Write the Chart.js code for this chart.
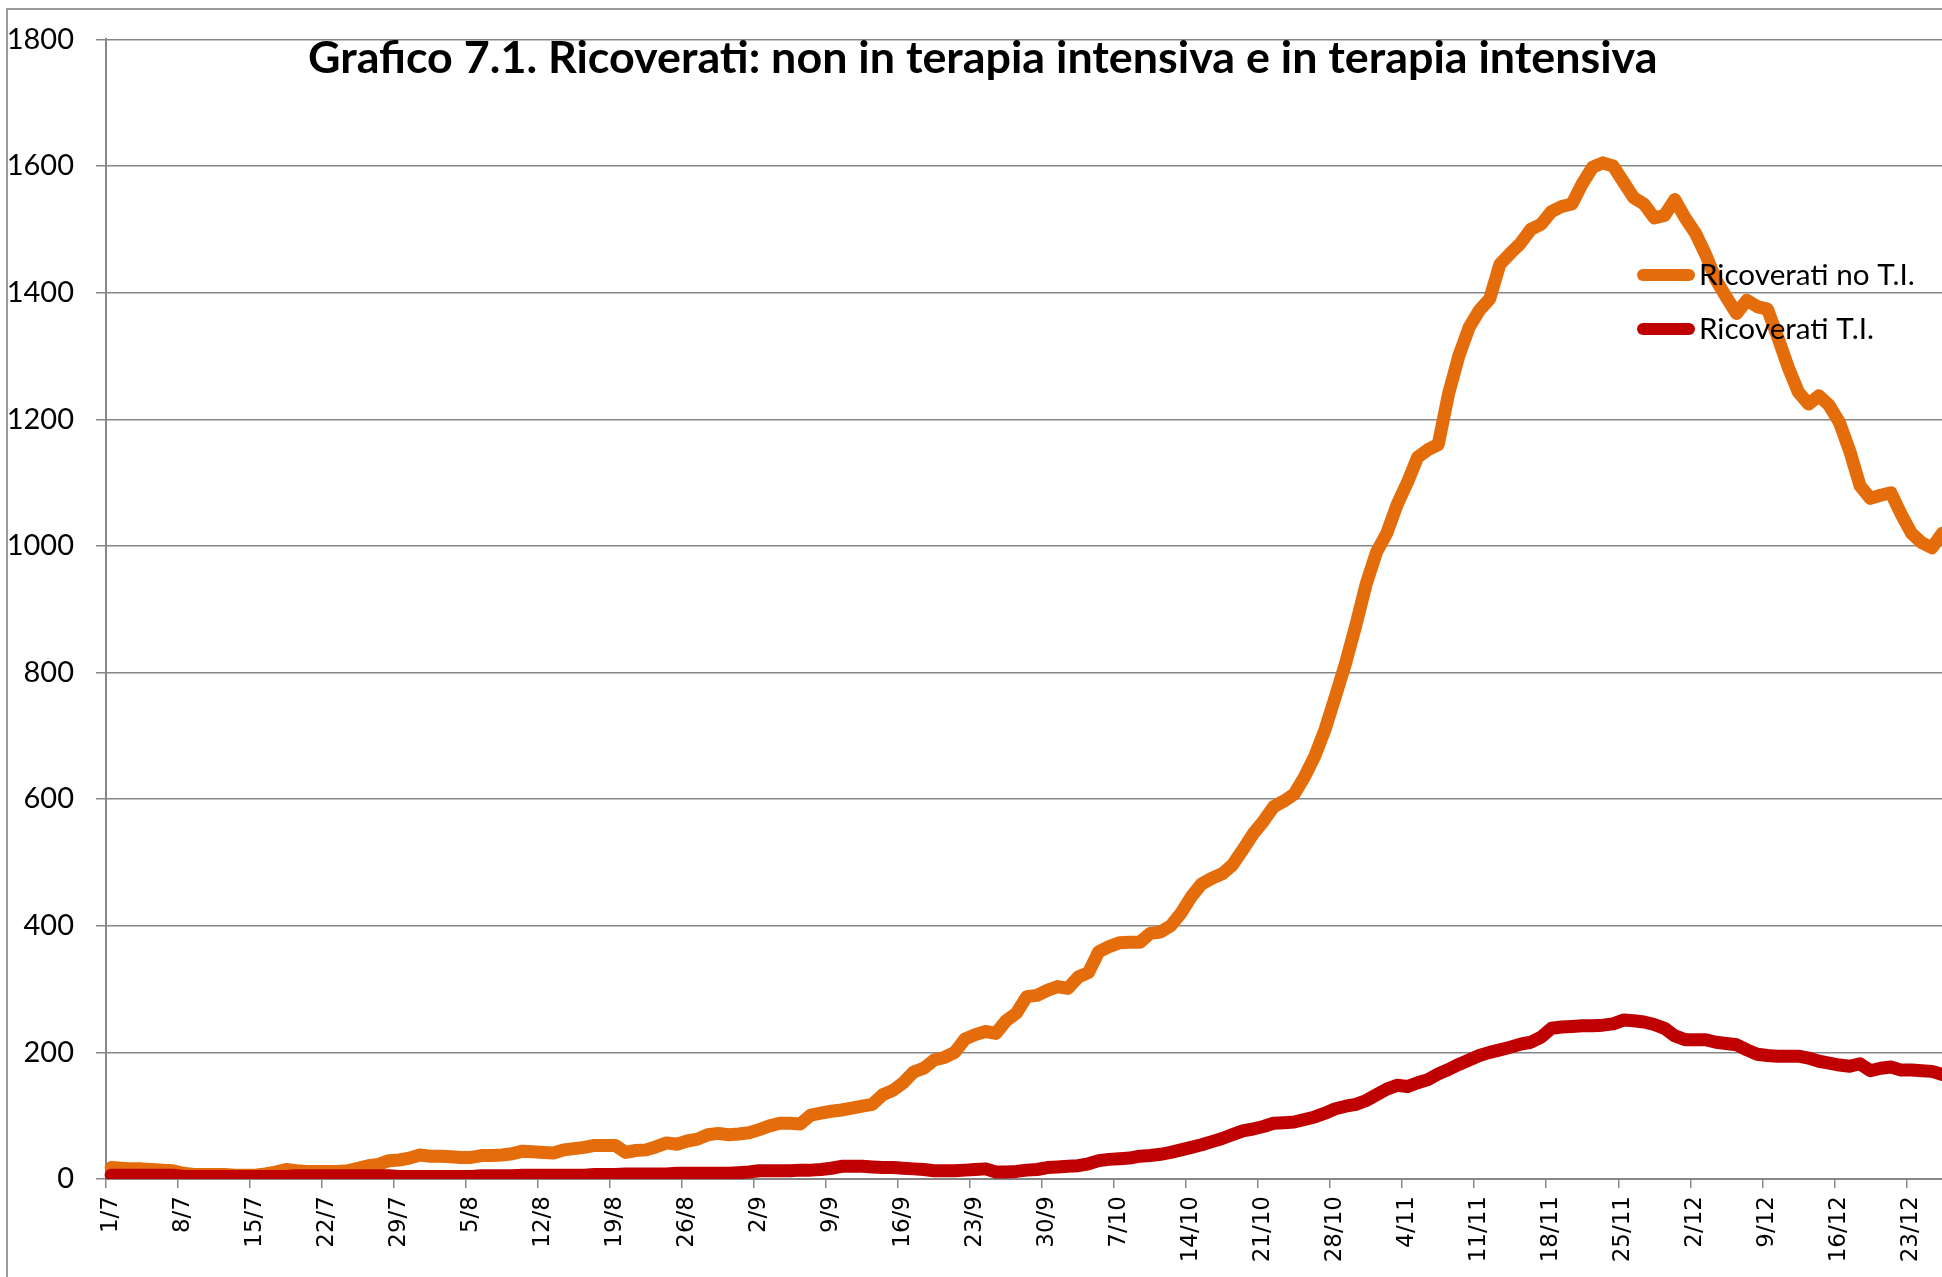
<!DOCTYPE html>
<html>
<head>
<meta charset="utf-8">
<script src="https://cdn.jsdelivr.net/npm/chart.js@4.4.1/dist/chart.umd.min.js"></script>
<style>
  html, body { margin: 0; padding: 0; background: #fff; overflow: hidden; }
  .frame { position: absolute; left: 6px; top: 8px; width: 3000px; height: 3000px;
           border-left: 2px solid #9a9a9a; border-top: 2px solid #9a9a9a; }
  .chart-container { position: absolute; left: 0; top: 0; width: 1978px; height: 1277px; }
</style>
</head>
<body>
<div class="frame"></div>
<div class="chart-container"><canvas id="ricoveratiChart"></canvas></div>
<script>
// daily categories, 1/7 -> 26/12
const days = [
  '1/7','2/7','3/7','4/7','5/7','6/7','7/7','8/7','9/7','10/7','11/7','12/7','13/7','14/7','15/7','16/7',
  '17/7','18/7','19/7','20/7','21/7','22/7','23/7','24/7','25/7','26/7','27/7','28/7','29/7','30/7','31/7',
  '1/8','2/8','3/8','4/8','5/8','6/8','7/8','8/8','9/8','10/8','11/8','12/8','13/8','14/8','15/8','16/8',
  '17/8','18/8','19/8','20/8','21/8','22/8','23/8','24/8','25/8','26/8','27/8','28/8','29/8','30/8','31/8',
  '1/9','2/9','3/9','4/9','5/9','6/9','7/9','8/9','9/9','10/9','11/9','12/9','13/9','14/9','15/9',
  '16/9','17/9','18/9','19/9','20/9','21/9','22/9','23/9','24/9','25/9','26/9','27/9','28/9','29/9','30/9',
  '1/10','2/10','3/10','4/10','5/10','6/10','7/10','8/10','9/10','10/10','11/10','12/10','13/10','14/10','15/10','16/10',
  '17/10','18/10','19/10','20/10','21/10','22/10','23/10','24/10','25/10','26/10','27/10','28/10','29/10','30/10','31/10',
  '1/11','2/11','3/11','4/11','5/11','6/11','7/11','8/11','9/11','10/11','11/11','12/11','13/11','14/11','15/11',
  '16/11','17/11','18/11','19/11','20/11','21/11','22/11','23/11','24/11','25/11','26/11','27/11','28/11','29/11','30/11',
  '1/12','2/12','3/12','4/12','5/12','6/12','7/12','8/12','9/12','10/12','11/12','12/12','13/12',
  '14/12','15/12','16/12','17/12','18/12','19/12','20/12','21/12','22/12','23/12','24/12','25/12','26/12'
];

// Ricoverati non in terapia intensiva
const ricoveratiNoTI = [
  18, 17, 16, 16, 15, 14, 13, 9, 7, 7,
  7, 7, 6, 6, 6, 8, 11, 15, 13, 12,
  12, 12, 12, 13, 17, 21, 23, 29, 30, 33,
  38, 36, 36, 35, 34, 34, 37, 37, 38, 40,
  44, 43, 42, 41, 46, 48, 50, 53, 53, 53,
  42, 45, 46, 51, 57, 55, 60, 63, 70, 72,
  70, 71, 73, 78, 84, 88, 88, 87, 101, 104,
  107, 109, 112, 115, 118, 133, 140, 152, 169, 175,
  188, 192, 200, 221, 228, 233, 230, 250, 262, 288,
  290, 298, 304, 301, 319, 326, 359, 367, 373, 374,
  374, 388, 390, 400, 420, 446, 466, 475, 482, 496,
  520, 545, 565, 588, 597, 608, 635, 668, 710, 762,
  815, 875, 940, 990, 1020, 1065, 1100, 1140, 1152, 1160,
  1240, 1300, 1345, 1372, 1390, 1445, 1462, 1478, 1500, 1508,
  1528, 1536, 1540, 1572, 1598, 1605, 1600, 1575, 1550, 1540,
  1518, 1522, 1547, 1518, 1494, 1460, 1420, 1393, 1367, 1388,
  1378, 1374, 1330, 1283, 1243, 1224, 1237, 1222, 1195, 1150,
  1095, 1075, 1080, 1084, 1050, 1020, 1005, 997, 1020
];

// Ricoverati in terapia intensiva
const ricoveratiTI = [
  6, 6, 6, 6, 6, 6, 6, 4, 4, 4,
  4, 4, 4, 4, 4, 4, 4, 4, 5, 5,
  5, 5, 5, 5, 5, 5, 5, 5, 4, 4,
  4, 4, 4, 4, 4, 4, 5, 5, 5, 5,
  6, 6, 6, 6, 6, 6, 6, 7, 7, 7,
  8, 8, 8, 8, 8, 9, 9, 9, 9, 9,
  9, 10, 11, 13, 13, 13, 13, 14, 14, 15,
  17, 20, 20, 20, 19, 18, 18, 17, 16, 15,
  13, 13, 13, 14, 15, 16, 11, 11, 12, 14,
  15, 18, 19, 20, 21, 24, 29, 31, 32, 33,
  36, 37, 39, 42, 46, 50, 54, 59, 64, 70,
  76, 79, 83, 88, 89, 90, 94, 98, 104, 111,
  115, 118, 124, 133, 142, 148, 146, 152, 157, 166,
  173, 181, 188, 195, 200, 204, 208, 213, 216, 224,
  238, 240, 241, 242, 242, 243, 245, 251, 250, 248,
  244, 238, 226, 220, 220, 220, 216, 214, 212, 204,
  197, 195, 194, 194, 194, 191, 186, 183, 180, 178,
  182, 171, 175, 177, 172, 172, 171, 170, 165
];

const yTicks = [0, 200, 400, 600, 800, 1000, 1200, 1400, 1600, 1800];
const tickEvery = 7; // one label each week

const titleText = 'Grafico 7.1. Ricoverati: non in terapia intensiva e in terapia intensiva';
const ORANGE = '#E46C0A';
const RED = '#C00000';
const GRID = '#878787';

// title and legend sit inside the plot area, like the Excel original
const overlay = {
  id: 'overlay',
  afterDraw(chart) {
    const c = chart.ctx;
    c.save();
    c.fillStyle = '#000';
    c.textAlign = 'left';

    // fit the title to its width in the picture
    c.font = 'bold 40px Lato';
    let size = 40 * 1350 / c.measureText(titleText).width;
    c.font = `bold ${size}px Lato`;
    c.textBaseline = 'alphabetic';
    c.fillText(titleText, 308, 73);

    const items = chart.data.datasets;
    c.font = '30px Lato';
    size = 30 * 216 / c.measureText(items[0].label).width;
    c.font = `${size}px Lato`;
    c.textBaseline = 'middle';
    items.forEach((ds, k) => {
      const y = 275 + k * 54;
      c.strokeStyle = ds.borderColor;
      c.lineWidth = 12;
      c.lineCap = 'round';
      c.beginPath();
      c.moveTo(1643, y);
      c.lineTo(1689, y);
      c.stroke();
      c.fillText(ds.label, 1699, y);
    });
    c.restore();
  }
};

const ctx = document.getElementById('ricoveratiChart').getContext('2d');
new Chart(ctx, {
  type: 'line',
  data: {
    labels: days,
    datasets: [
      {
        label: 'Ricoverati no T.I.',
        data: ricoveratiNoTI,
        borderColor: ORANGE,
        backgroundColor: ORANGE,
        borderWidth: 13,
        pointRadius: 0,
        tension: 0,
        borderJoinStyle: 'round',
        borderCapStyle: 'round',
        order: 2
      },
      {
        label: 'Ricoverati T.I.',
        data: ricoveratiTI,
        borderColor: RED,
        backgroundColor: RED,
        borderWidth: 13,
        pointRadius: 0,
        tension: 0,
        borderJoinStyle: 'round',
        borderCapStyle: 'round',
        order: 1
      }
    ]
  },
  options: {
    responsive: true,
    maintainAspectRatio: false,
    animation: false,
    layout: { padding: { top: 37, right: 30, bottom: 0, left: 0 } },
    plugins: {
      legend: { display: false },
      tooltip: { enabled: false }
    },
    scales: {
      x: {
        offset: true,
        grid: {
          offset: true,
          drawOnChartArea: false,
          tickLength: 9,
          lineWidth: 1.5,
          color: c => (c.index % tickEvery === 0 ? GRID : 'rgba(0,0,0,0)'),
          tickColor: c => (c.index % tickEvery === 0 ? GRID : 'rgba(0,0,0,0)')
        },
        border: { color: GRID, width: 2 },
        ticks: {
          autoSkip: false,
          maxRotation: 90,
          minRotation: 90,
          padding: 8,
          color: '#000',
          font: { family: 'DejaVu Sans', size: 23 },
          callback: (v, i) => (i % tickEvery === 0 ? days[i] : '')
        },
        afterFit: s => { s.height = 98; }
      },
      y: {
        min: 0,
        max: 1800,
        afterBuildTicks: s => { s.ticks = yTicks.map(v => ({ value: v })); },
        grid: { color: GRID, lineWidth: 1.5, tickLength: 10 },
        border: { color: GRID, width: 2 },
        ticks: {
          padding: 22,
          color: '#000',
          font: { family: 'Lato', size: 29 },
          callback: v => String(v)
        },
        afterFit: s => { s.width = 106; }
      }
    }
  },
  plugins: [overlay]
});
</script>
</body>
</html>
